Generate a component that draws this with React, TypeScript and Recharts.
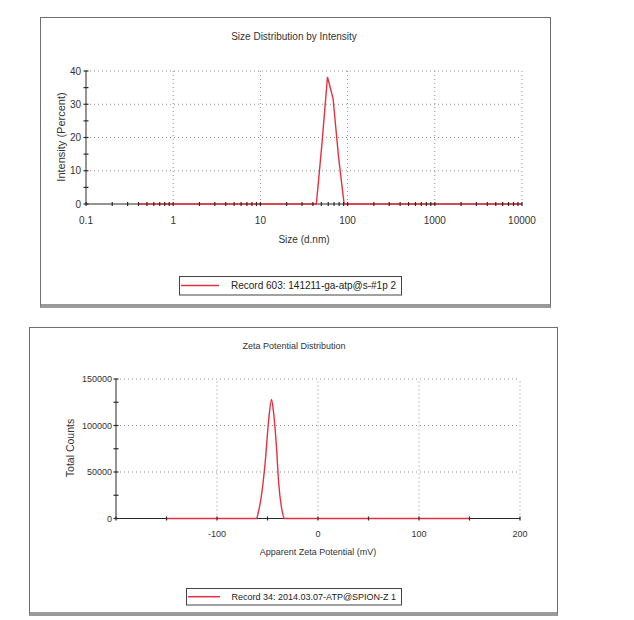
import { LineChart, Line, XAxis, YAxis, ReferenceLine } from "recharts";

// Size distribution (DLS), log-spaced size classes in d.nm
const sizeNm = [
  0.4, 0.4632, 0.5365, 0.6213, 0.7195, 0.8332, 0.9649,
  1.117, 1.294, 1.499, 1.736, 2.01, 2.328, 2.696, 3.122, 3.615, 4.187, 4.849, 5.615, 6.503, 7.531, 8.721,
  10.1, 11.7, 13.54, 15.69, 18.17, 21.04, 24.36, 28.21, 32.67, 37.84, 43.82, 50.75, 58.77, 68.06, 78.82, 91.28,
  105.7, 122.4, 141.8, 164.2, 190.1, 220.2, 255, 295.3, 342, 396.1, 458.7, 531.2, 615.1, 712.4, 825, 955.4,
  1106, 1281, 1484, 1718, 1990, 2305, 2669, 3091, 3580, 4145, 4801, 5560, 6439, 7456, 8635, 10000,
];
const intensityPct = [
  0, 0, 0, 0, 0, 0, 0,
  0, 0, 0, 0, 0, 0, 0, 0, 0, 0, 0, 0, 0, 0, 0,
  0, 0, 0, 0, 0, 0, 0, 0, 0, 0, 0, 18, 38.2, 31.8, 14, 0,
  0, 0, 0, 0, 0, 0, 0, 0, 0, 0, 0, 0, 0, 0, 0, 0,
  0, 0, 0, 0, 0, 0, 0, 0, 0, 0, 0, 0, 0, 0, 0, 0,
];
const sizeMajorTicks = [0.1, 1, 10, 100, 1000, 10000];
const sizeMinorTicks = [
  0.2, 0.3, 0.4, 0.5, 0.6, 0.7, 0.8, 0.9,
  2, 3, 4, 5, 6, 7, 8, 9,
  20, 30, 40, 50, 60, 70, 80, 90,
  200, 300, 400, 500, 600, 700, 800, 900,
  2000, 3000, 4000, 5000, 6000, 7000, 8000, 9000,
];
const intensityTicks = [0, 5, 10, 15, 20, 25, 30, 35, 40];
const intensityLabels = [0, 10, 20, 30, 40];

// Zeta potential distribution
const zetaMv = [-150, -100, -61, -59, -55.5, -52, -49, -46, -44, -41, -39, -36, -33, 0, 50, 100, 150];
const zetaCounts = [0, 0, 0, 7000, 28500, 64000, 104000, 128000, 114000, 75000, 39000, 11000, 0, 0, 0, 0, 0];
const zetaTicks = [-200, -150, -100, -50, 0, 50, 100, 150, 200];
const zetaLabels = [-100, 0, 100, 200];
const countTicks = [0, 25000, 50000, 75000, 100000, 125000, 150000];
const countLabels = [0, 50000, 100000, 150000];

const sizeData = sizeNm.map((size, i) => ({ size, intensity: intensityPct[i] }));
const zetaData = zetaMv.map((mv, i) => ({ mv, counts: zetaCounts[i] }));

const FONT = '"Liberation Sans", Arial, sans-serif';
const RED = "#e4303f";
const GRID = "#8c8c8c";
const INK = "#2a2a2a";

function xTick(labels: number[], fontSize: number, dy: number) {
  return (p: any) => {
    const v = p.payload.value;
    return (
      <g>
        <line x1={p.x} x2={p.x} y1={p.y - 2} y2={p.y + 2} stroke={INK} strokeWidth={1.2} />
        {labels.includes(v) && (
          <text x={p.x} y={p.y + dy} textAnchor="middle" fontSize={fontSize} fontFamily={FONT} fill="#333">
            {String(v)}
          </text>
        )}
      </g>
    );
  };
}

function yTick(labels: number[], fontSize: number, dx: number) {
  return (p: any) => {
    const v = p.payload.value;
    return (
      <g>
        <line x1={p.x - 2.5} x2={p.x + 2.5} y1={p.y} y2={p.y} stroke={INK} strokeWidth={1.2} />
        {labels.includes(v) && (
          <text x={p.x - dx} y={p.y + fontSize * 0.35} textAnchor="end" fontSize={fontSize} fontFamily={FONT} fill="#333">
            {String(v)}
          </text>
        )}
      </g>
    );
  };
}

const dotted = { stroke: GRID, strokeDasharray: "1 3", strokeWidth: 1 };

export default function App() {
  const sizeTicks = [...sizeMajorTicks, ...sizeMinorTicks].sort((a, b) => a - b);
  return (
    <div style={{ position: "absolute", left: 0, top: 0, width: 634, height: 620, background: "#fff", fontFamily: FONT }}>
      {/* panel frames */}
      <div style={{ position: "absolute", left: 40, top: 17, width: 511, height: 291, boxSizing: "border-box", border: "1.5px solid #6e6e6e", borderBottom: "4px solid #9a9a9a" }} />
      <div style={{ position: "absolute", left: 29, top: 327, width: 529, height: 289, boxSizing: "border-box", border: "1.5px solid #6e6e6e", borderBottom: "4px solid #9a9a9a" }} />

      <LineChart
        width={634}
        height={310}
        data={sizeData}
        margin={{ top: 71, right: 112, left: 56, bottom: 76 }}
        style={{ position: "absolute", left: 0, top: 0 }}
      >
        {[1, 10, 100, 1000, 10000].map((v) => (
          <ReferenceLine key={"sx" + v} x={v} {...dotted} />
        ))}
        {[10, 20, 30, 40].map((v) => (
          <ReferenceLine key={"sy" + v} y={v} {...dotted} />
        ))}
        <XAxis
          dataKey="size"
          type="number"
          scale="log"
          domain={[0.1, 10000]}
          allowDataOverflow
          ticks={sizeTicks}
          interval={0}
          tickSize={0}
          tickMargin={0}
          tickLine={false}
          axisLine={{ stroke: INK }}
          height={30}
          tick={xTick(sizeMajorTicks, 10, 20)}
        />
        <YAxis
          type="number"
          domain={[0, 40]}
          ticks={intensityTicks}
          interval={0}
          tickSize={0}
          tickMargin={0}
          tickLine={false}
          axisLine={{ stroke: INK }}
          width={30}
          tick={yTick(intensityLabels, 10, 5)}
        />
        <Line type="linear" dataKey="intensity" stroke={RED} strokeWidth={1.4} dot={false} isAnimationActive={false} zIndex={900} />
      </LineChart>

      <LineChart
        width={634}
        height={300}
        data={zetaData}
        margin={{ top: 59, right: 114, left: 76, bottom: 71.5 }}
        style={{ position: "absolute", left: 0, top: 320 }}
      >
        {zetaLabels.map((v) => (
          <ReferenceLine key={"zx" + v} x={v} {...dotted} />
        ))}
        {[50000, 100000, 150000].map((v) => (
          <ReferenceLine key={"zy" + v} y={v} {...dotted} />
        ))}
        <XAxis
          dataKey="mv"
          type="number"
          domain={[-200, 200]}
          ticks={zetaTicks}
          interval={0}
          tickSize={0}
          tickMargin={0}
          tickLine={false}
          axisLine={{ stroke: INK }}
          height={30}
          tick={xTick(zetaLabels, 9, 18.5)}
        />
        <YAxis
          type="number"
          domain={[0, 150000]}
          ticks={countTicks}
          interval={0}
          tickSize={0}
          tickMargin={0}
          tickLine={false}
          axisLine={{ stroke: INK }}
          width={40}
          tick={yTick(countLabels, 9, 4)}
        />
        <Line type="monotone" dataKey="counts" stroke={RED} strokeWidth={1.4} dot={false} isAnimationActive={false} zIndex={900} />
      </LineChart>

      {/* titles, axis names and legends */}
      <svg width={634} height={620} style={{ position: "absolute", left: 0, top: 0, pointerEvents: "none" }} fontFamily={FONT}>
        <text x={294} y={40} textAnchor="middle" fontSize={10} fill="#333">Size Distribution by Intensity</text>
        <text x={304} y={243} textAnchor="middle" fontSize={10} fill="#333">Size (d.nm)</text>
        <text transform="translate(61,137) rotate(-90)" textAnchor="middle" dy="0.35em" fontSize={11} fill="#333">Intensity (Percent)</text>
        <rect x={179.5} y={276.5} width={222} height={18.5} fill="none" stroke="#444" strokeWidth={1} />
        <line x1={181} x2={219} y1={285.5} y2={285.5} stroke={RED} strokeWidth={1.5} />
        <text x={231} y={289} fontSize={10} fill="#222">Record 603: 141211-ga-atp@s-#1p 2</text>

        <text x={294} y={349} textAnchor="middle" fontSize={9} fill="#333">Zeta Potential Distribution</text>
        <text x={318} y={555} textAnchor="middle" fontSize={9} fill="#333">Apparent Zeta Potential (mV)</text>
        <text transform="translate(70,448) rotate(-90)" textAnchor="middle" dy="0.35em" fontSize={10.5} fill="#333">Total Counts</text>
        <rect x={186.5} y={588.5} width={215} height={16.5} fill="none" stroke="#444" strokeWidth={1} />
        <line x1={188} x2={220} y1={596.7} y2={596.7} stroke={RED} strokeWidth={1.5} />
        <text x={231.5} y={600} fontSize={9} fill="#222">Record 34: 2014.03.07-ATP@SPION-Z 1</text>
      </svg>
    </div>
  );
}
